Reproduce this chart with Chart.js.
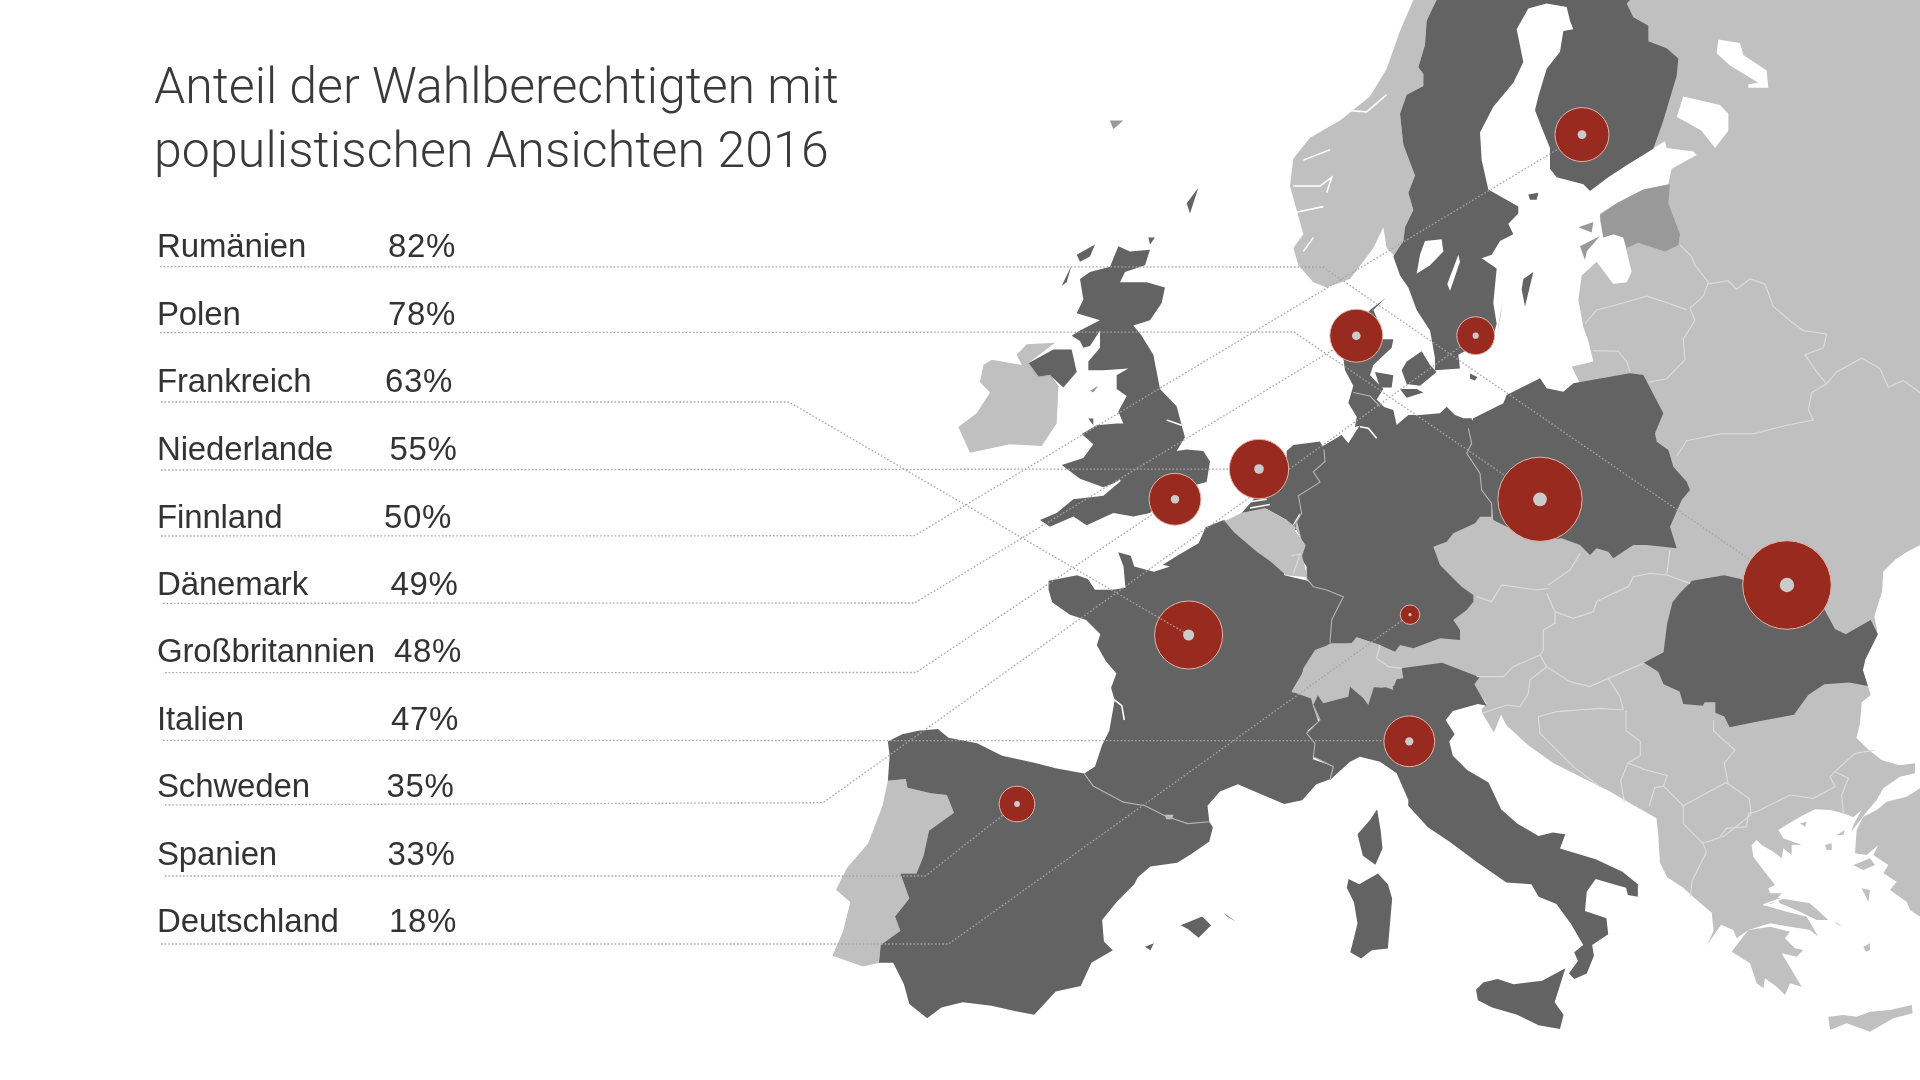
<!DOCTYPE html>
<html lang="de"><head><meta charset="utf-8"><title>Anteil der Wahlberechtigten mit populistischen Ansichten 2016</title>
<script src="https://cdn.jsdelivr.net/npm/chart.js@4"></script>
<style>html,body{margin:0;padding:0;background:#fff}canvas{display:block}</style></head>
<body><canvas id="c" width="1920" height="1080"></canvas>
<script>
// ---------- chart values ----------
const titleLines = ["Anteil der Wahlberechtigten mit", "populistischen Ansichten 2016"];
const countries = ["Rumänien","Polen","Frankreich","Niederlande","Finnland","Dänemark","Großbritannien","Italien","Schweden","Spanien","Deutschland"];
const shares = [82,78,63,55,50,49,48,47,35,33,18];
const centreX = [1787,1540,1188.6,1259,1582,1356.3,1175,1409.3,1475.7,1017,1410];
const centreY = [585,499.3,635,469,134.6,335.7,499.3,741.3,335.7,804,614.7];
const rowBaseline = [257.3,324.6,392.3,459.6,527.6,594.6,662.3,729.9,797.3,864.9,932.3];
const shareTextX = [388,388,385,389.5,384,390.5,394,391,386.6,387.6,389];
const leaderStartX = [160,160,161,161,161,163,165,163,165,165,161];
const leaderRowY = [266.7,332.7,402,470,536,603.3,672.7,740.3,805,876,944];
const leaderBendX = [1323,1294,789,1259,914.6,914.6,916,1409,823,925.4,948.6];
const leaderBendY = [267,332,402,469,535.7,603,672.5,740.7,802.7,876,944];

const frame = (ox,oy,sx,sy) => (...n) => { const o=[]; for(let i=0;i<n.length;i+=2) o.push({x:ox+n[i]/sx,y:oy+n[i+1]/sy}); return o; };
const P0=frame(0,0,1,1), F3=frame(940,0,3,2.904), F4=frame(1400,0,3,2.904), F5=frame(820,520,2.8,2.8), F6=frame(1360,520,2.8,2.8), F7=frame(1280,300,3,3), F8=frame(1720,730,3,3);

const eastMass=[...P0(1920,0,1920,545),
 ...F6(1530,90,1500,110,1465,145,1462,200,1440,270,1450,320,1415,390,1408,420,1422,465,1430,490,1405,510,1400,570,1390,610,1420,640,1460,672,1510,687),
 ...F8(585,100,585,130,540,140,490,175,470,210,440,245,405,290,395,305,400,285,425,240,400,262,370,250,330,240,285,238,245,258,215,275,175,300,190,325,245,345,215,345,215,375,190,355,185,385,160,365,125,345,110,330,95,345,100,380,130,420,165,465,145,475,150,490,185,490,160,520,130,525,200,545,260,560,295,620,270,600,240,595,210,590,150,580,85,600,50,625,40,600,5,585),
 ...F6(1010,1135,975,1185,970,1195,990,1150,985,1100,950,1070,905,1030,860,1000,840,960,835,880,830,835,760,795,700,760,620,720,540,680,470,630,410,575,395,545,375,595,345,545,340,530,355,515,330,480),
 ...F7(300,1280,60,1250,0,1100,900,250),
 ...F4(515,1065,580,1050,565,990,550,950,535,870,545,800,590,760,640,825,680,820,695,790,670,690,640,680,610,690,600,640,600,620,650,590,730,550,805,535,815,490,890,450,880,440,800,430,795,410,760,430,780,350,820,220,825,170,790,140,740,120,740,75,695,50,675,10,685,0)];
const turkey=F8(600,175,560,200,500,215,470,240,430,260,410,300,405,370,440,375,475,345,460,375,505,405,490,430,530,455,510,480,560,515,570,540,600,560);
const peloponnese=F8(35,665,85,600,150,590,210,605,195,625,225,655,250,660,230,680,185,670,245,770,210,760,195,795,170,770,135,745,130,775,110,760,90,700);
const crete=F8(325,860,370,855,410,860,450,845,510,840,575,825,578,850,520,865,450,905,380,880,330,900);
const euboea=F8(170,503,270,520,325,570,290,570,240,545,180,520);
const lesbos=F8(400,405,450,385,465,405,430,420), chios=F8(425,475,450,480,445,515), lemnos=F8(315,345,335,340,335,360,320,360);
const thasos=F8(240,280,260,275,255,290), imbros=F8(350,315,375,300,370,315), naxos=F8(430,650,450,640,450,660,438,665), andros=F8(345,575,370,590,350,582);
const norway=F3(1495,0,1460,60,1455,130,1435,195,1450,215,1450,250,1400,275,1380,330,1390,420,1425,510,1405,560,1420,610,1395,660,1390,700,1365,745,1340,720,1330,660,1300,720,1230,810,1160,835,1120,820,1075,770,1060,720,1090,680,1050,540,1060,460,1110,400,1200,350,1290,280,1340,200,1380,90,1420,0);
const ireland=F3(130,1060,155,1045,245,1060,230,1030,260,1000,345,995,265,1055,295,1095,330,1090,355,1125,350,1230,305,1295,210,1290,90,1315,55,1240,110,1200,150,1140,120,1110);
const portugal=F5(190,730,240,725,245,750,310,765,355,770,375,820,305,870,290,940,270,990,225,990,250,1060,210,1110,225,1150,170,1190,165,1240,120,1250,35,1220,65,1150,85,1070,45,1035,75,975,135,905,175,800);
const estonia=F4(600,625,650,590,730,550,810,535,805,590,840,680,835,712,795,730,715,705,680,720,670,690,640,680,610,690);
const saaremaa=F4(540,715,600,685,560,730,555,755), hiiumaa=F4(535,660,580,645,575,675);

const nordic=F4(110,0,80,60,75,130,55,195,70,215,70,250,20,275,0,330,10,420,45,510,25,560,40,610,15,660,10,700,-20,745,0,800,25,835,50,900,90,960,95,985,105,1040,105,1075,180,1070,175,1030,280,975,290,940,280,880,290,780,245,750,275,740,300,700,340,680,325,650,355,620,355,600,265,550,245,465,240,385,280,310,340,240,370,180,350,85,385,25,440,10,500,20,510,60,520,85,490,90,480,150,440,200,415,280,405,320,425,370,450,430,450,490,470,515,550,535,570,555,625,515,680,480,760,432,790,350,830,220,835,170,800,140,745,120,745,75,700,50,680,10,690,0);
const oeland=F4(310,865,290,975,300,925), gotland=F4(400,790,375,890,365,840,370,810), aland=F4(385,565,415,560,410,580,390,580), bornholm=F4(210,1085,232,1095,225,1105,210,1100);
const vaenern=F4(75,700,125,695,130,730,90,770,50,795,60,740), vaettern=F4(175,740,180,760,150,845,142,825);
const ladoga=F4(830,340,850,280,960,305,985,330,985,380,945,430,905,380,860,355), onega=F4(955,115,1020,125,1030,160,1100,205,1105,255,1045,255,1045,245,1075,240,990,190,950,155);

const jutland=F3(1338,865,1290,900,1240,960,1210,1040,1215,1075,1240,1120,1225,1170,1250,1210,1245,1240,1320,1220,1340,1190,1310,1160,1330,1130,1290,1090,1300,1060,1355,1010,1360,985,1325,985,1320,945,1300,900);
const funen=F3(1305,1080,1360,1090,1355,1125,1320,1125), zealand=F3(1385,1075,1400,1050,1445,1020,1470,1060,1490,1080,1440,1120,1400,1115), lolland=F3(1380,1130,1430,1130,1450,1140,1400,1155);
const germany=F7(125,440,185,405,205,430,240,375,235,340,215,300,225,275,265,285,310,320,340,330,350,375,385,345,420,345,480,340,500,320,525,345,550,355,575,355,580,385,565,385,575,430,560,460,600,520,605,570,635,610,635,650,600,650,585,670,520,700,500,725,460,740,480,795,545,860,580,885,580,905,560,930,520,960,540,990,540,1020,480,1015,440,1030,400,1045,360,1035,345,1055,300,1035,230,1012,215,1030,150,1030,155,960,190,890,140,870,100,860,80,835,80,800,60,770,75,740,50,690,30,690,60,650,50,590,100,580,125,540,105,510,130,460);
const netherlands=F3(1040,1310,1060,1292,1140,1282,1152,1305,1200,1360,1200,1440,1085,1480,1055,1530,1040,1510,980,1478,905,1490,950,1440,1040,1340);
const poland=F7(565,385,580,355,670,310,680,285,780,235,800,265,850,275,880,250,1050,220,1090,225,1150,340,1125,400,1130,425,1165,450,1180,500,1220,545,1230,570,1205,600,1170,680,1190,745,1100,735,1060,735,1000,775,985,755,950,745,930,765,900,735,845,715,790,720,700,690,640,660,635,610,605,570,600,520,560,460,575,430);
const romania=F6(930,170,1020,155,1065,165,1300,250,1330,305,1360,320,1430,280,1450,320,1415,390,1408,420,1422,465,1370,455,1300,460,1255,490,1215,545,1110,565,1035,580,1020,550,995,540,995,510,965,510,960,520,905,515,895,480,850,460,835,425,795,400,850,370,860,290,875,230,895,205);
const italy=[...F7(100,1215,120,1260,80,1300,105,1330,100,1370,160,1400,150,1440,210,1385,240,1370,300,1385,350,1420,385,1500),
 ...F6(135,800,190,860,250,900,330,960,410,1015,480,1020,500,1055,550,1075,590,1130,625,1190,600,1210,610,1235,585,1270,600,1285,635,1270,655,1220,650,1190,695,1160,690,1115,630,1095,635,1040,660,1005,710,1020,745,1030,750,1050,778,1055,778,1020,735,985,660,950,560,920,575,880,540,875,500,885,440,850,395,810,360,735,300,700,260,660,250,620,265,600,240,560,260,535,330,515,355,520,320,460,335,440,230,400,115,415,95,465,60,470),
 ...F7(130,1150)];
const sicily=F6(325,1315,345,1295,385,1285,430,1300,510,1290,575,1255,545,1350,570,1385,560,1425,500,1415,440,1385,370,1365,330,1345);
const sardinia=F5(1475,1030,1480,1005,1510,1020,1562,990,1590,1020,1602,1060,1590,1200,1545,1205,1515,1228,1485,1210,1505,1130,1495,1070);
const corsica=F5(1560,810,1570,870,1575,920,1555,965,1520,940,1505,880,1540,840);
const france=[...F5(1130,0,1080,20,1060,65,1000,100,960,125,980,130,935,145,880,130,870,100,835,90,850,130,855,190,820,195,770,195,750,165,720,155,640,170,640,195,650,230,700,265,745,280,785,320,775,350,800,395,830,430,815,470,825,505,810,590,790,630,770,690,740,710,765,745,850,790,910,800,970,830,1030,850,1090,845,1085,800,1120,760,1170,740,1240,770,1300,795,1350,785,1390,740,1430,725,1440,690,1380,670,1390,625,1365,590,1395,565,1380,520,1375,500,1320,480,1385,370,1430,345,1445,260,1470,210,1420,195,1365,170,1300,155,1300,60)];
const spain=F5(190,620,230,600,275,590,330,585,360,610,440,625,510,660,600,680,660,695,740,710,765,745,850,790,910,800,970,830,1030,850,1090,845,1100,860,1090,900,1040,935,1000,960,925,970,890,1000,880,1020,830,1070,790,1120,795,1180,820,1205,760,1240,730,1305,660,1320,600,1385,545,1375,480,1360,400,1350,340,1365,300,1395,250,1355,235,1300,205,1240,165,1240,170,1190,225,1150,210,1110,250,1060,225,990,270,990,290,940,305,870,375,820,355,770,310,765,245,750,240,725,190,730,195,660);
const mallorca=F5(1010,1135,1070,1110,1095,1135,1060,1170,1030,1145), menorca=F5(1130,1100,1165,1125,1140,1110), ibiza=F5(910,1195,935,1185,925,1205);
const greatBritain=F3(510,775,535,715,570,730,630,725,615,770,555,790,540,820,620,820,675,835,665,880,630,930,580,945,605,975,640,1030,660,1130,710,1180,725,1235,735,1270,710,1310,740,1305,790,1310,810,1340,800,1400,740,1415,700,1420,630,1490,580,1500,520,1490,440,1525,400,1500,330,1530,300,1510,350,1490,400,1450,490,1440,545,1395,490,1415,420,1390,365,1350,430,1330,460,1290,425,1260,470,1235,530,1230,550,1230,535,1195,560,1150,530,1130,530,1090,565,1070,490,1075,445,1075,445,1050,480,1010,480,960,450,1005,430,1010,420,990,395,975,420,960,480,930,410,910,430,870,420,810,450,790);
const northernIreland=F3(265,1055,340,1015,395,1015,410,1080,370,1125,330,1090,295,1095);
const hebrides=F3(380,820,395,770,365,830), lewis=F3(410,740,465,710,450,745,420,760), orkney=F3(625,690,645,690,630,710), shetland=F3(740,590,775,545,750,620), anglesey=F3(445,1215,460,1215,460,1235);
const faroe=F3(510,350,550,350,520,375), isleOfMan=F3(450,1135,475,1120,460,1140);
const belgium=[...F3(850,1515,905,1490,975,1475,1040,1510,1065,1530,1085,1568),...F5(1335,0,1330,30,1360,70,1350,100,1365,160,1305,155,1260,115,1225,90,1195,65,1160,35,1130,0)];
const switzerland=F7(35,1180,60,1150,70,1105,105,1050,130,1040,215,1030,230,1012,300,1035,295,1080,325,1100,365,1105,370,1135,335,1140,340,1170,285,1150,265,1215,250,1195,210,1160,205,1190,130,1210,95,1160,60,1170);
const andorra=F5(965,825,990,825,985,838,970,838);

const borderDark=[
 F7(80,835,100,860,140,870,190,890,155,960,150,1030),
 F7(100,1215,120,1260,80,1300,105,1330,100,1370,160,1400,150,1440),
 F5(740,710,765,745,850,790,910,800,970,830,1030,850,1090,845),
 F7(565,385,575,430,560,460,600,520,605,570,635,610,635,650),
 F3(1152,1305,1155,1340,1120,1370,1140,1400,1075,1440,1085,1490,1060,1530),
 F3(1240,1140,1290,1150,1320,1180),
 F3(265,1055,295,1095,330,1090,355,1125)];
const borderLight=[
 F4(555,940,590,900,650,885,740,860,790,875,860,900),
 F4(840,712,875,745,885,770,925,820,910,860,870,895,885,930,850,985,855,1045,800,1100,745,1110),
 F4(580,1018,655,1020,680,1050,690,1080),
 F4(925,825,985,815,1010,840,1050,810,1095,825,1120,890,1175,935,1210,960,1280,970,1270,1010,1215,1030,1250,1080,1280,1115),
 F4(1280,1115,1310,1080,1385,1040,1440,1070,1465,1125,1510,1105,1560,1140),
 F4(1280,1115,1235,1140,1225,1190,1240,1220,1160,1235,1060,1260,960,1260,860,1280,830,1325),
 F7(900,760,870,810,805,855),
 F7(805,865,770,870,665,855,635,905,590,890),
 F7(800,880,825,935),
 F7(825,935,880,955,940,935,950,905,1000,880,1045,860,1060,830,1110,820,1160,825),
 F7(1160,825,1170,750), F7(1160,825,1230,850),
 F7(825,935,825,970,790,990,790,1050,780,1065),
 F7(780,1065,700,1100,670,1130,590,1130),
 F7(780,1065,800,1100,870,1145,930,1160,985,1135,1090,1090),
 F7(800,1100,750,1140,745,1180,720,1220,680,1215,605,1240),
 F7(985,1135,1020,1190,1030,1230),
 F7(1030,1230,960,1225,830,1235,775,1250,780,1300,820,1340,880,1400,960,1460),
 F6(745,535,745,590,785,620,785,660,750,680),
 F6(750,680,730,730,740,790),
 F6(750,680,800,700,860,715,850,745,825,750,810,800),
 F6(850,745,905,800,905,850,960,905),
 F6(905,800,1025,735,1090,780,1095,825,1020,885,960,905),
 F6(960,905,970,930,930,1010,925,1055),
 F6(990,560,990,590,1050,645,1020,680,1030,735),
 F8(465,60,405,70,345,125,385,145,365,195,370,250),
 F8(345,125,330,140,345,170,280,205,210,195,110,245,85,250,80,290,20,295,0,320),
 F7(300,1035,290,1075,325,1100,365,1105),
 F5(1320,100,1345,95,1325,150)];
const whiteInlets=[
 F3(1060,540,1140,540,1175,515,1160,560), F3(1215,320,1280,325,1340,275), F3(1050,620,1150,600), F3(1090,465,1170,435), F3(1090,730,1120,690),
 F5(820,500,845,520,852,560), F7(240,380,265,385,290,415), F3(910,1460,980,1450), F3(930,1475,990,1465),
 F8(130,525,200,500), F3(540,1395,470,1440), F3(680,1220,725,1235)];

// ---------- assemble ----------
const LIGHT="#c0c0c0", DARK="#636363", MID="#999999";
const polygon=(pts,color)=>({type:"line",data:pts,showLine:false,pointRadius:0,polygonFill:color});
const stroke=(pts,color,width,dash)=>({type:"line",data:pts,borderColor:color,borderWidth:width,borderDash:dash||[],pointRadius:0,tension:0,fill:false});
const leader=i=>stroke([{x:leaderStartX[i],y:leaderRowY[i]},{x:leaderBendX[i],y:leaderBendY[i]},{x:centreX[i],y:centreY[i]}],"rgb(165,165,165)",1.3,[1.6,2]);
const RADIUS_PER_POINT=0.54, DOT_PER_POINT=0.088;
const layers=[
 ...[eastMass,turkey,peloponnese,crete,euboea,lesbos,chios,lemnos,thasos,imbros,naxos,andros,norway,ireland,portugal].map(p=>polygon(p,LIGHT)),
 ...[estonia,saaremaa,hiiumaa,faroe,isleOfMan].map(p=>polygon(p,MID)),
 ...[nordic,oeland,gotland,aland,bornholm,jutland,funen,zealand,lolland,germany,netherlands,poland,romania,italy,sicily,sardinia,corsica,france,spain,mallorca,menorca,ibiza,greatBritain,northernIreland,hebrides,lewis,orkney,shetland,anglesey].map(p=>polygon(p,DARK)),
 ...[belgium,switzerland,andorra].map(p=>polygon(p,LIGHT)),
 ...[vaenern,vaettern,ladoga,onega].map(p=>polygon(p,"#ffffff")),
 ...whiteInlets.map(p=>stroke(p,"#ffffff",1.6)),
 ...borderDark.map(p=>stroke(p,"#b4b4b4",1.1)),
 ...borderLight.map(p=>stroke(p,"#dcdcdc",1.2)),
 ...countries.map((c,i)=>i===2?null:leader(i)).filter(Boolean),
 {type:"bubble",label:"Anteil",data:shares.map((v,i)=>({x:centreX[i],y:centreY[i],r:v*RADIUS_PER_POINT})),backgroundColor:"#982a1f",borderColor:"#e3b3aa",borderWidth:1},
 leader(2),
 {type:"bubble",label:"Punkt",data:shares.map((v,i)=>({x:centreX[i],y:centreY[i],r:v*DOT_PER_POINT})),backgroundColor:"#cbcbcb",borderWidth:0}
];

const polygonFiller={id:"polygonFiller",afterDatasetDraw(chart,args){
 const ds=chart.data.datasets[args.index]; if(!ds.polygonFill) return;
 const ctx=chart.ctx; ctx.save(); ctx.beginPath();
 args.meta.data.forEach((p,i)=>i?ctx.lineTo(p.x,p.y):ctx.moveTo(p.x,p.y));
 ctx.closePath(); ctx.fillStyle=ds.polygonFill; ctx.fill(); ctx.restore();
}};
const textBlock={id:"textBlock",afterDraw(chart){
 const ctx=chart.ctx; ctx.save(); ctx.textBaseline="alphabetic"; ctx.textAlign="left";
 ctx.fillStyle="#3a3a3a"; ctx.font='300 50px Roboto'; ctx.letterSpacing="0px";
 ctx.fillText(titleLines[0],154,103); ctx.letterSpacing="0.12px"; ctx.fillText(titleLines[1],154,167.4);
 ctx.fillStyle="#333333"; ctx.font='33px "Liberation Sans"';
 countries.forEach((c,i)=>{ctx.letterSpacing="-0.15px";ctx.fillText(c,157,rowBaseline[i]);ctx.letterSpacing="0.6px";ctx.fillText(shares[i]+"%",shareTextX[i],rowBaseline[i]);});
 ctx.restore();
}};
new Chart(document.getElementById("c"),{
 type:"scatter",
 data:{datasets:layers.slice().reverse()},
 options:{responsive:false,animation:false,devicePixelRatio:1,events:[],layout:{padding:0,autoPadding:false},
  plugins:{legend:{display:false},tooltip:{enabled:false},title:{display:false}},
  scales:{x:{type:"linear",min:0,max:1920,display:false},y:{type:"linear",min:0,max:1080,reverse:true,display:false}}},
 plugins:[polygonFiller,textBlock]
});
</script></body></html>
